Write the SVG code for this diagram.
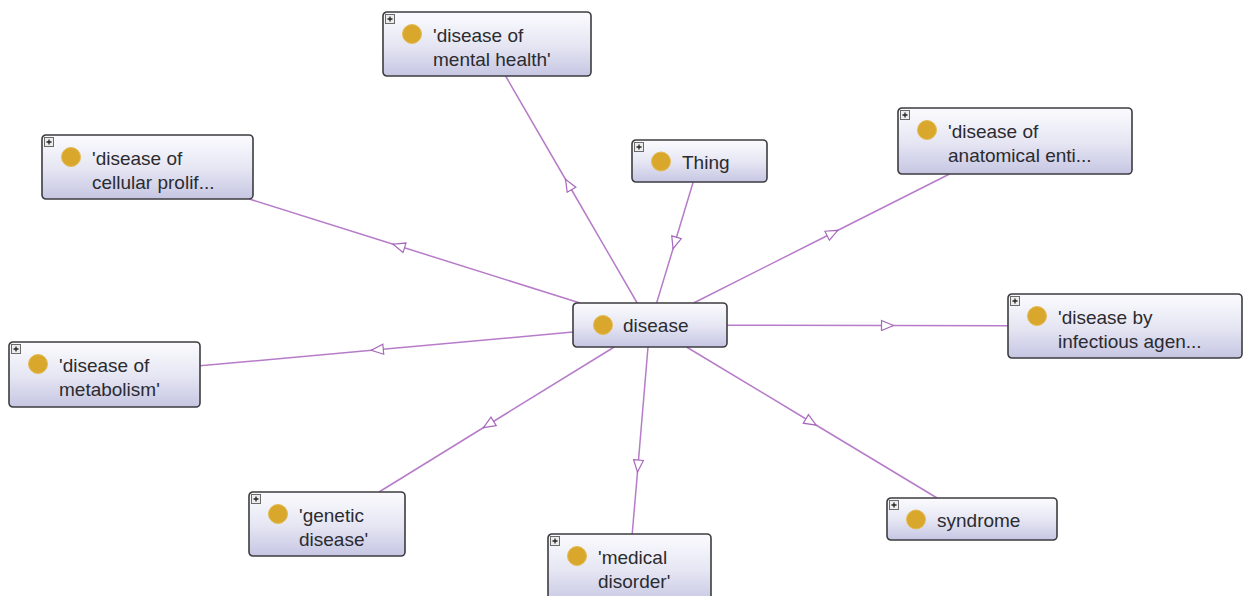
<svg xmlns="http://www.w3.org/2000/svg" xmlns:xlink="http://www.w3.org/1999/xlink" width="1249" height="596" viewBox="0 0 1249 596">
  <style>
    .box { fill: url(#nodeFill); stroke: #3c3c40; stroke-width: 1.6; }
    .dot { fill: #d8a72c; stroke: #e3bb55; stroke-width: 1; }
    .lbl { font-family: "Liberation Sans", Arial, sans-serif; font-size: 19px; fill: #2b2b30; }
    .edge { fill: none; stroke: #b77cc9; stroke-width: 1.5; marker-mid: url(#isa); }
  </style>
  <defs>
    <linearGradient id="nodeFill" x1="0" y1="0" x2="0" y2="1">
      <stop offset="0" stop-color="#fbfbfe"/>
      <stop offset="0.5" stop-color="#e7e7f4"/>
      <stop offset="1" stop-color="#c6c6e3"/>
    </linearGradient>
    <!-- hollow triangle placed halfway along each link -->
    <marker id="isa" viewBox="0 0 14 12" refX="7" refY="6" markerWidth="14" markerHeight="12" markerUnits="userSpaceOnUse" orient="auto">
      <path d="M1,1 L13,6 L1,11 Z" fill="#ffffff" stroke="#a668ba" stroke-width="1.2"/>
    </marker>
    <!-- expand toggle in a node's corner -->
    <g id="plus">
      <rect x="2.5" y="2.5" width="9" height="9" fill="#ececec" stroke="#6a6a6a" stroke-width="1"/>
      <path d="M4.5 7h5M7 4.5v5" stroke="#222" stroke-width="1.3"/>
    </g>
  </defs>

  <rect width="1249" height="596" fill="#ffffff"/>

  <g id="connectors">
    <polyline class="edge" points="637.2,303 568.5,184.5 505.6,76"/>
    <polyline class="edge" points="693.2,182 674.8,243 656.6,303"/>
    <polyline class="edge" points="693.6,303 832.5,233 949.6,174"/>
    <polyline class="edge" points="580,303 398.8,246 249.3,199"/>
    <polyline class="edge" points="727,325.2 887.5,325.5 1008,325.8"/>
    <polyline class="edge" points="573,332 377.3,349.8 200,365.8"/>
    <polyline class="edge" points="614.3,347 488.5,424.5 379,492"/>
    <polyline class="edge" points="648,347 638,466 632.2,534"/>
    <polyline class="edge" points="686.5,347 811,422 937.1,498"/>
  </g>

  <g id="node-mental-health" transform="translate(383,12)">
    <rect class="box" x="0" y="0" width="208" height="64" rx="4"/>
    <use href="#plus"/>
    <circle class="dot" cx="29" cy="22" r="9.5"/>
    <text class="lbl" x="50" y="30">'disease of</text>
    <text class="lbl" x="50" y="54">mental health'</text>
  </g>

  <g id="node-thing" transform="translate(632,140)">
    <rect class="box" x="0" y="0" width="135" height="42" rx="4"/>
    <use href="#plus"/>
    <circle class="dot" cx="29" cy="21.5" r="9.5"/>
    <text class="lbl" x="50" y="28.5">Thing</text>
  </g>

  <g id="node-anatomical" transform="translate(898,108)">
    <rect class="box" x="0" y="0" width="234" height="66" rx="4"/>
    <use href="#plus"/>
    <circle class="dot" cx="29" cy="22" r="9.5"/>
    <text class="lbl" x="50" y="30">'disease of</text>
    <text class="lbl" x="50" y="54">anatomical enti...</text>
  </g>

  <g id="node-cellular" transform="translate(42,135)">
    <rect class="box" x="0" y="0" width="211" height="64" rx="4"/>
    <use href="#plus"/>
    <circle class="dot" cx="29" cy="22" r="9.5"/>
    <text class="lbl" x="50" y="30">'disease of</text>
    <text class="lbl" x="50" y="54">cellular prolif...</text>
  </g>

  <g id="node-disease" transform="translate(573,303)">
    <rect class="box" x="0" y="0" width="154" height="44" rx="4"/>
    <circle class="dot" cx="30" cy="22" r="9.5"/>
    <text class="lbl" x="50" y="29">disease</text>
  </g>

  <g id="node-infectious" transform="translate(1008,294)">
    <rect class="box" x="0" y="0" width="234" height="64" rx="4"/>
    <use href="#plus"/>
    <circle class="dot" cx="29" cy="22" r="9.5"/>
    <text class="lbl" x="50" y="30">'disease by</text>
    <text class="lbl" x="50" y="54">infectious agen...</text>
  </g>

  <g id="node-metabolism" transform="translate(9,342)">
    <rect class="box" x="0" y="0" width="191" height="65" rx="4"/>
    <use href="#plus"/>
    <circle class="dot" cx="29" cy="22" r="9.5"/>
    <text class="lbl" x="50" y="30">'disease of</text>
    <text class="lbl" x="50" y="54">metabolism'</text>
  </g>

  <g id="node-genetic" transform="translate(249,492)">
    <rect class="box" x="0" y="0" width="156" height="64" rx="4"/>
    <use href="#plus"/>
    <circle class="dot" cx="29" cy="22" r="9.5"/>
    <text class="lbl" x="50" y="30">'genetic</text>
    <text class="lbl" x="50" y="54">disease'</text>
  </g>

  <g id="node-medical" transform="translate(548,534)">
    <rect class="box" x="0" y="0" width="163" height="70" rx="4"/>
    <use href="#plus"/>
    <circle class="dot" cx="29" cy="22" r="9.5"/>
    <text class="lbl" x="50" y="30">'medical</text>
    <text class="lbl" x="50" y="54">disorder'</text>
  </g>

  <g id="node-syndrome" transform="translate(887,498)">
    <rect class="box" x="0" y="0" width="170" height="42" rx="4"/>
    <use href="#plus"/>
    <circle class="dot" cx="29" cy="21.5" r="9.5"/>
    <text class="lbl" x="50" y="28.5">syndrome</text>
  </g>
</svg>
